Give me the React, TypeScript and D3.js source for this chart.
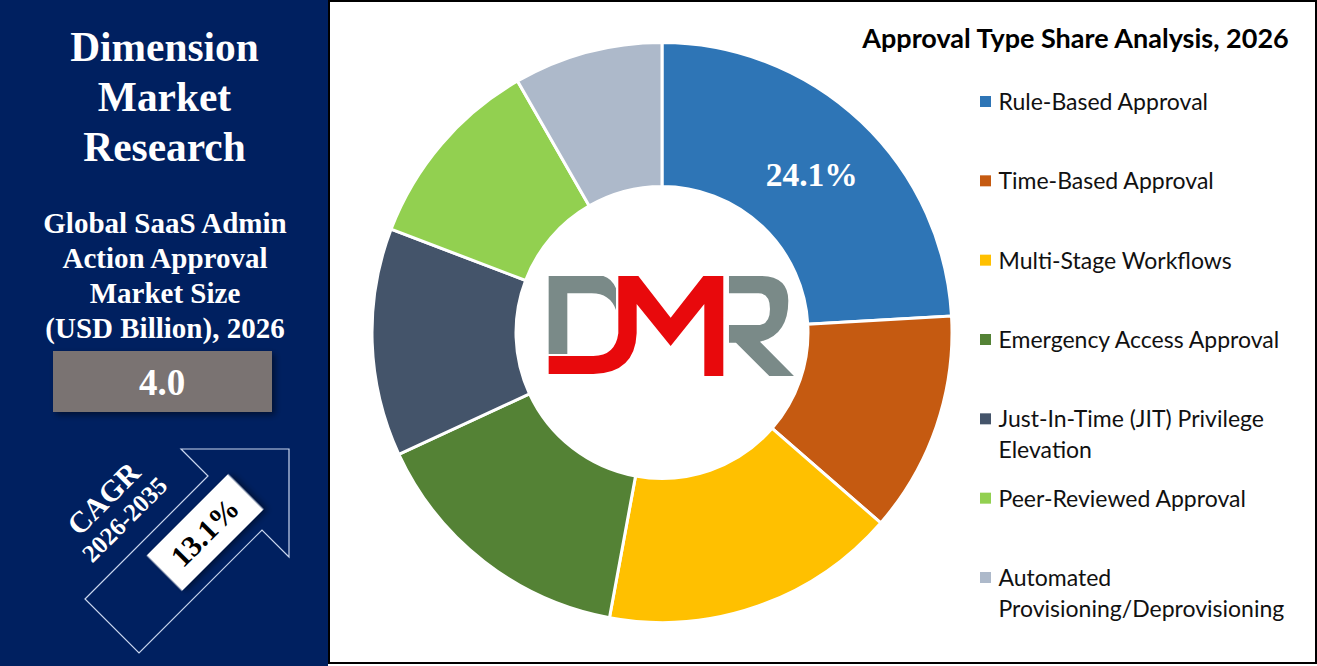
import { useMemo } from 'react'
import * as d3 from 'd3'

const WIDTH = 1317
const HEIGHT = 666

const categories = [
  'Rule-Based Approval',
  'Time-Based Approval',
  'Multi-Stage Workflows',
  'Emergency Access Approval',
  'Just-In-Time (JIT) Privilege Elevation',
  'Peer-Reviewed Approval',
  'Automated Provisioning/Deprovisioning',
]
const shares = [24.1, 12.3, 16.5, 15.2, 12.7, 10.9, 8.3]
const colors = ['#2e75b6', '#c55a11', '#ffc000', '#548235', '#44546a', '#92d050', '#adb9ca']
const legendLines = [
  ['Rule-Based Approval'],
  ['Time-Based Approval'],
  ['Multi-Stage Workflows'],
  ['Emergency Access Approval'],
  ['Just-In-Time (JIT) Privilege', 'Elevation'],
  ['Peer-Reviewed Approval'],
  ['Automated', 'Provisioning/Deprovisioning'],
]
const brandLines = ['Dimension', 'Market', 'Research']
const marketLines = ['Global SaaS Admin', 'Action Approval', 'Market Size', '(USD Billion), 2026']
const marketSize = '4.0'
const cagr = '13.1%'
const title = 'Approval Type Share Analysis, 2026'

const CX = 662
const CY = 332.5
const R_OUTER = 290
const R_INNER = 146
const SERIF = '"Liberation Serif", serif'
const SANS = 'Lato, "Open Sans", sans-serif'

export default function App() {
  const slices = useMemo(() => d3.pie<number>().sort(null)(shares), [])
  const arc = d3.arc<d3.PieArcDatum<number>>().innerRadius(R_INNER).outerRadius(R_OUTER)
  const legendY = d3.scalePoint<number>().domain(d3.range(7)).range([102, 578])

  return (
    <svg
      width={WIDTH}
      height={HEIGHT}
      viewBox={`0 0 ${WIDTH} ${HEIGHT}`}
      style={{ position: 'absolute', left: 0, top: 0, background: '#fff' }}
    >
      <defs>
        <filter id="soft" x="-20%" y="-20%" width="150%" height="150%">
          <feDropShadow dx="3" dy="3" stdDeviation="3" floodColor="#000" floodOpacity="0.45" />
        </filter>
      </defs>

      {/* left panel */}
      <rect x={0} y={0} width={328} height={HEIGHT} fill="#002060" />
      <g fontFamily={SERIF} fontWeight="bold" fill="#fff" textAnchor="middle">
        {brandLines.map((t, i) => (
          <text key={t} x={164.5} y={61 + i * 50} fontSize={41.4}>{t}</text>
        ))}
        {marketLines.map((t, i) => (
          <text key={t} x={165} y={233 + i * 35} fontSize={29}>{t}</text>
        ))}
      </g>
      <rect x={53} y={351} width={219} height={61} fill="#7a7372" filter="url(#soft)" />
      <text x={162} y={395} fontFamily={SERIF} fontWeight="bold" fontSize={37} fill="#fff" textAnchor="middle">
        {marketSize}
      </text>

      {/* CAGR arrow */}
      <path
        d="M85 599 L208 476 L181 449 H289 V557 L262 530 L139 653 Z"
        fill="none"
        stroke="#c9d6ee"
        strokeWidth={1.2}
      />
      <g transform="translate(115 510) rotate(-45)" fontFamily={SERIF} fontWeight="bold" fill="#fff" textAnchor="middle">
        <text x={0} y={-6} fontSize={30}>CAGR</text>
        <text x={0} y={22} fontSize={25}>2026-2035</text>
      </g>
      <g transform="translate(205 532.5) rotate(-45)">
        <rect x={-57.5} y={-25} width={115} height={50} fill="#fff" filter="url(#soft)" />
        <text x={0} y={10} fontFamily={SERIF} fontWeight="bold" fontSize={30} fill="#000" textAnchor="middle">
          {cagr}
        </text>
      </g>

      {/* right panel frame */}
      <rect x={329} y={1} width={987} height={662} fill="#fff" stroke="#000" strokeWidth={2} />

      {/* donut */}
      <g transform={`translate(${CX},${CY})`}>
        {slices.map((d, i) => (
          <path key={categories[i]} d={arc(d) ?? ''} fill={colors[i]} stroke="#fff" strokeWidth={3} />
        ))}
        <text
          x={arc.centroid(slices[0])[0]}
          y={-146.5}
          fontFamily={SERIF}
          fontWeight="bold"
          fontSize={33.5}
          fill="#fff"
          textAnchor="middle"
        >
          {shares[0].toFixed(1)}%
        </text>
      </g>

      {/* DMR logo */}
      <g transform="translate(510 210) scale(0.3333)">
        <path
          d="M116 198 H280 Q305 205 318 235 V300 Q300 250 245 250 H172 V432 H116 Z"
          fill="#7a8a88"
        />
        <path
          d="M657 198 H755 Q835 200 835 272 Q835 375 750 395 L852 498 H778 L678 398 H657 V345 H750 Q780 340 780 297 Q780 250 745 250 H657 Z"
          fill="#7a8a88"
        />
        <path
          d="M116 438 H250 Q316 438 325 370 V198 H385 L482 323 L580 198 H640 V498 H583 V282 L482 408 L380 282 V370 Q375 490 250 492 H116 Z"
          fill="#e8090c"
        />
      </g>

      {/* title and legend */}
      <text x={1075.5} y={48} fontFamily={SANS} fontWeight="bold" fontSize={27} fill="#000" textAnchor="middle">
        {title}
      </text>
      {categories.map((c, i) => (
        <g key={c}>
          <rect x={980} y={legendY(i)! - 6} width={11} height={11} fill={colors[i]} />
          {legendLines[i].map((line, j) => (
            <text
              key={line}
              x={998.5}
              y={legendY(i)! + 8 + j * 31}
              fontFamily={SANS}
              fontSize={23}
              fill="#111"
            >
              {line}
            </text>
          ))}
        </g>
      ))}
    </svg>
  )
}
